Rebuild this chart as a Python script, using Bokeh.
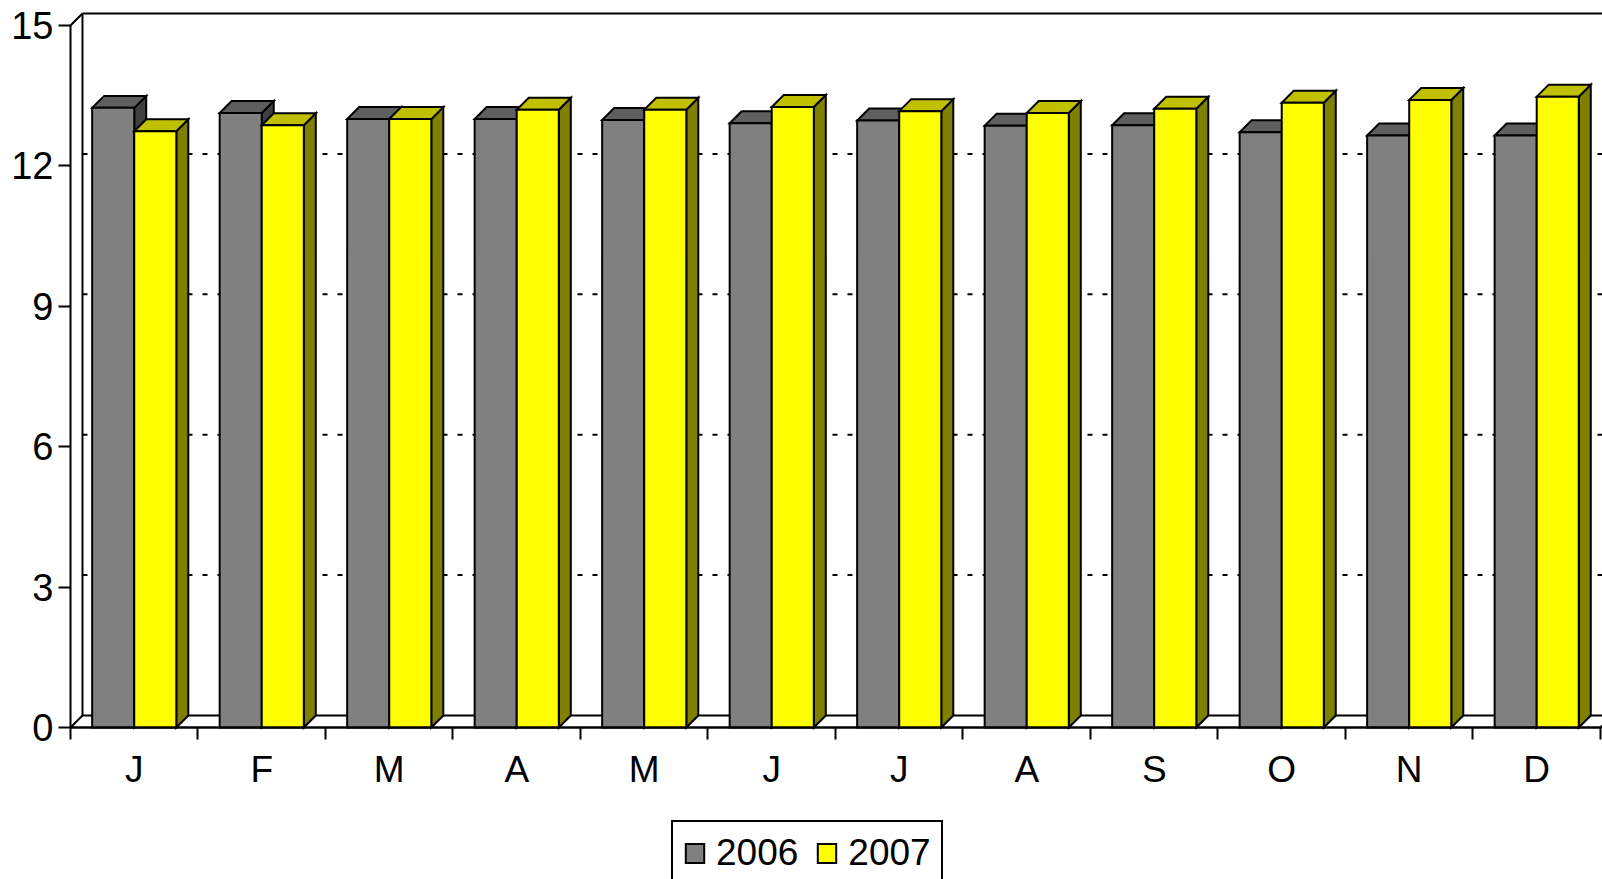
from bokeh.plotting import figure
from bokeh.models import Range1d, FixedTicker, Legend, LegendItem
from bokeh.embed import file_html
from bokeh.resources import INLINE

# ---- data ----
months = ["J", "F", "M", "A", "M", "J", "J", "A", "S", "O", "N", "D"]
v2006 = [13.24, 13.13, 13.00, 13.00, 12.98, 12.91, 12.97, 12.86, 12.87, 12.72, 12.65, 12.65]
v2007 = [12.74, 12.87, 13.00, 13.20, 13.20, 13.26, 13.17, 13.13, 13.22, 13.35, 13.41, 13.48]
series_names = ["2006", "2007"]
y_ticks = [0, 3, 6, 9, 12, 15]

# ---- style ----
FONT = "Liberation Sans"
FRONT = ["#808080", "#ffff00"]
TOP = ["#5f5f5f", "#c0c000"]
SIDE = ["#3f3f3f", "#808000"]
DX, DY = 0.094, 0.256       # oblique depth offset (data units)
BAR_L0, BAR_W = 0.17, 0.33  # bar position in each category
N = len(months)
YMAX = y_ticks[-1]

p = figure(width=1602, height=879, output_backend="svg", toolbar_location=None,
           x_range=Range1d(-0.549, 12.016), y_range=Range1d(-3.248, 15.534),
           min_border_left=0, min_border_right=0, min_border_top=0,
           min_border_bottom=0)
p.outline_line_color = None
p.xgrid.visible = False
p.ygrid.visible = False
p.background_fill_color = "white"

# floor
p.patch([0, N, N + DX, DX], [0, 0, DY, DY], fill_color="white",
        line_color="black", line_width=2)
# back wall & side wall edges
p.segment(x0=[DX, 0, DX], y0=[DY, YMAX, YMAX + DY],
          x1=[DX, DX, N + DX], y1=[YMAX + DY, YMAX + DY, YMAX + DY],
          line_color="black", line_width=2)
# dashed gridlines on back wall
gl = [t for t in y_ticks if 0 < t < YMAX]
p.segment(x0=[DX] * len(gl), y0=[t + DY for t in gl],
          x1=[N + DX] * len(gl), y1=[t + DY for t in gl],
          line_color="black", line_width=2, line_dash="5 10")

fronts = []
for k, vals in enumerate([v2006, v2007]):
    lefts = [i + BAR_L0 + k * BAR_W for i in range(N)]
    rights = [l + BAR_W for l in lefts]
    p.patches([[r, r, r + DX, r + DX] for r in rights],
              [[0, v, v + DY, DY] for v in vals],
              fill_color=SIDE[k], line_color="black", line_width=2,
              line_join="miter")
    p.patches([[l, r, r + DX, l + DX] for l, r in zip(lefts, rights)],
              [[v, v, v + DY, v + DY] for v in vals],
              fill_color=TOP[k], line_color="black", line_width=2,
              line_join="miter")
    fronts.append(p.quad(left=lefts, right=rights, bottom=0, top=vals,
                         fill_color=FRONT[k], line_color="black", line_width=2,
                         line_join="miter"))

# axes (pinned at the data origin)
ya = p.yaxis[0]
ya.fixed_location = 0
ya.ticker = FixedTicker(ticks=y_ticks)
ya.bounds = (0, YMAX)
ya.axis_line_width = 2
ya.major_tick_line_width = 2
ya.major_tick_out = 12
ya.major_tick_in = 0
ya.minor_tick_line_color = None
ya.major_label_text_font = FONT
ya.major_label_text_font_size = "38px"
ya.major_label_text_color = "black"
ya.major_label_standoff = 5

xa = p.xaxis[0]
xa.fixed_location = 0
centers = [i + 0.5 for i in range(N)]
xa.ticker = FixedTicker(ticks=centers, minor_ticks=list(range(N + 1)))
xa.major_label_overrides = {c: m for c, m in zip(centers, months)}
xa.bounds = (0, N + 0.1)
xa.axis_line_width = 2
xa.major_tick_out = 0
xa.major_tick_in = 0
xa.major_tick_line_color = None
xa.minor_tick_out = 12
xa.minor_tick_in = 0
xa.minor_tick_line_width = 2
xa.minor_tick_line_color = "black"
xa.major_label_text_font = FONT
xa.major_label_text_font_size = "37px"
xa.major_label_text_color = "black"
xa.major_label_standoff = 10

legend = Legend(items=[LegendItem(label=n, renderers=[r]) for n, r in zip(series_names, fronts)],
                orientation="horizontal", location=(671, -7),
                label_text_font=FONT, label_text_font_size="37px",
                label_text_color="black",
                glyph_width=23, glyph_height=24, label_standoff=10, spacing=17,
                padding=10, margin=0, border_line_color="black", border_line_width=2,
                border_line_alpha=1.0, background_fill_alpha=1.0)
p.add_layout(legend, "center")

open("out.html", "w").write(file_html(p, INLINE))
